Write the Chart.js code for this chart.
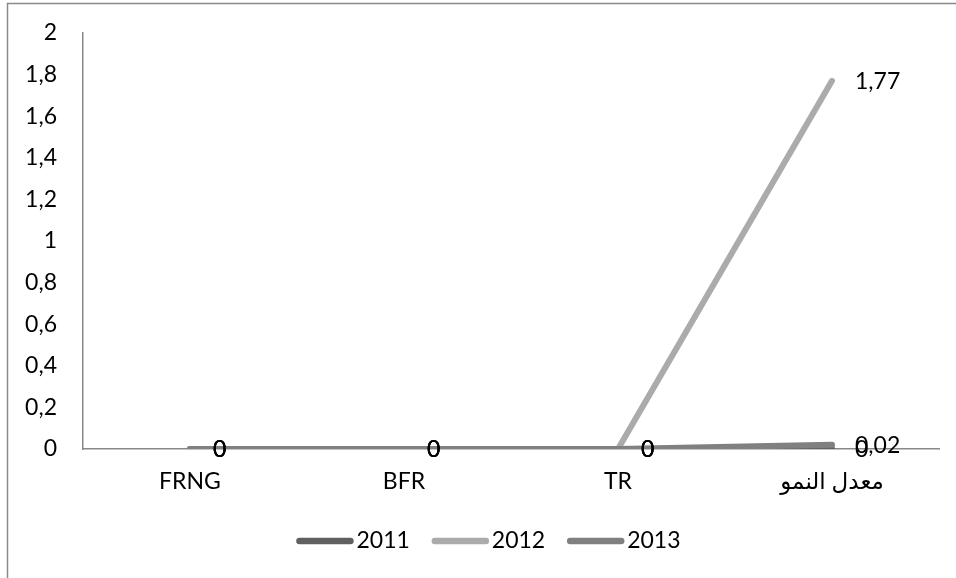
<!DOCTYPE html>
<html>
<head>
<meta charset="utf-8">
<script src="https://cdn.jsdelivr.net/npm/chart.js@4/dist/chart.umd.min.js"></script>
<style>
  html, body { margin: 0; padding: 0; background: #fff; overflow: hidden; }
  #wrap { position: relative; width: 956px; height: 578px; }
</style>
</head>
<body>
<div id="wrap"><canvas id="c" width="956" height="578"></canvas></div>
<script>
// Chart data
const categories = ['FRNG', 'BFR', 'TR', 'معدل النمو'];
const seriesNames = ['2011', '2012', '2013'];
const values2011 = [0, 0, 0, 0];
const values2012 = [0, 0, 0, 1.77];
const values2013 = [0, 0, 0, 0.02];
const yTickLabels = ['0', '0,2', '0,4', '0,6', '0,8', '1', '1,2', '1,4', '1,6', '1,8', '2'];

const FONT = 'Lato, "DejaVu Sans", sans-serif';
const FONT_SIZE = 23;
Chart.defaults.font.family = FONT;
Chart.defaults.font.size = FONT_SIZE;
Chart.defaults.color = '#000';

// decimal comma formatting
const fmt = v => String(v).replace('.', ',');

// outer frame of the chart area (left and top edges)
const framePlugin = {
  id: 'frame',
  beforeDraw(chart) {
    const ctx = chart.ctx;
    ctx.save();
    ctx.fillStyle = '#fff';
    ctx.fillRect(0, 0, chart.width, chart.height);
    ctx.strokeStyle = '#8a8a8a';
    ctx.lineWidth = 1.5;
    ctx.beginPath();
    ctx.moveTo(7.5, chart.height);
    ctx.lineTo(7.5, 3.5);
    ctx.lineTo(chart.width, 3.5);
    ctx.stroke();
    ctx.restore();
  }
};

// value labels placed to the right of each point
const valueLabels = {
  id: 'valueLabels',
  afterDatasetsDraw(chart) {
    const ctx = chart.ctx;
    ctx.save();
    ctx.font = FONT_SIZE + 'px ' + FONT;
    ctx.fillStyle = '#000';
    ctx.textAlign = 'left';
    ctx.textBaseline = 'middle';
    chart.data.datasets.forEach((ds, i) => {
      const meta = chart.getDatasetMeta(i);
      meta.data.forEach((pt, j) => {
        ctx.fillText(fmt(ds.data[j]), pt.x + 23, pt.y + 1);
      });
    });
    ctx.restore();
  }
};

// legend row with line swatches below the axis
const lineLegend = {
  id: 'lineLegend',
  afterDraw(chart) {
    const ctx = chart.ctx;
    const swatch = 51, gapText = 6, gapItem = 25, cy = 541, center = 490;
    ctx.save();
    ctx.font = FONT_SIZE + 'px ' + FONT;
    ctx.textBaseline = 'middle';
    ctx.textAlign = 'left';
    const items = chart.data.datasets.map(ds => ({
      text: ds.label, color: ds.borderColor, w: ctx.measureText(ds.label).width
    }));
    const total = items.reduce((s, it) => s + swatch + gapText + it.w, 0) + gapItem * (items.length - 1);
    let x = center - total / 2;
    items.forEach(it => {
      ctx.strokeStyle = it.color;
      ctx.lineWidth = 6.5;
      ctx.lineCap = 'round';
      ctx.beginPath();
      ctx.moveTo(x, cy);
      ctx.lineTo(x + swatch, cy);
      ctx.stroke();
      ctx.fillStyle = '#000';
      ctx.fillText(it.text, x + swatch + gapText, cy);
      x += swatch + gapText + it.w + gapItem;
    });
    ctx.restore();
  }
};

const lineStyle = {
  borderWidth: 6,
  borderCapStyle: 'round',
  borderJoinStyle: 'round',
  pointRadius: 0,
  pointHoverRadius: 0,
  tension: 0,
  fill: false
};

new Chart(document.getElementById('c'), {
  type: 'line',
  data: {
    labels: categories,
    datasets: [
      Object.assign({ label: seriesNames[0], data: values2011, borderColor: '#606060', backgroundColor: '#606060', order: 2 }, lineStyle),
      Object.assign({ label: seriesNames[1], data: values2012, borderColor: '#ababab', backgroundColor: '#ababab', order: 1 }, lineStyle),
      Object.assign({ label: seriesNames[2], data: values2013, borderColor: '#808080', backgroundColor: '#808080', order: 0 }, lineStyle)
    ]
  },
  options: {
    responsive: false,
    animation: false,
    layout: { padding: { top: 33, right: 17, left: 0, bottom: 0 } },
    plugins: {
      legend: { display: false },
      tooltip: { enabled: false },
      title: { display: false }
    },
    scales: {
      x: {
        type: 'category',
        offset: true,
        grid: { display: false, drawTicks: false },
        border: { display: true, color: '#888', width: 1.5 },
        ticks: { padding: 19, maxRotation: 0, autoSkip: false, color: '#000' },
        afterFit(s) { s.height = 129; }
      },
      y: {
        min: 0,
        max: 2,
        grid: { display: false, drawTicks: false },
        border: { display: true, color: '#888', width: 1.5 },
        ticks: {
          stepSize: 0.2,
          padding: 26,
          color: '#000',
          callback: (v, i) => yTickLabels[i]
        },
        afterFit(s) {
          s.width = 83;
          s.paddingTop = 10;
          s.paddingBottom = 10;
        }
      }
    }
  },
  plugins: [framePlugin, valueLabels, lineLegend]
});
</script>
</body>
</html>
